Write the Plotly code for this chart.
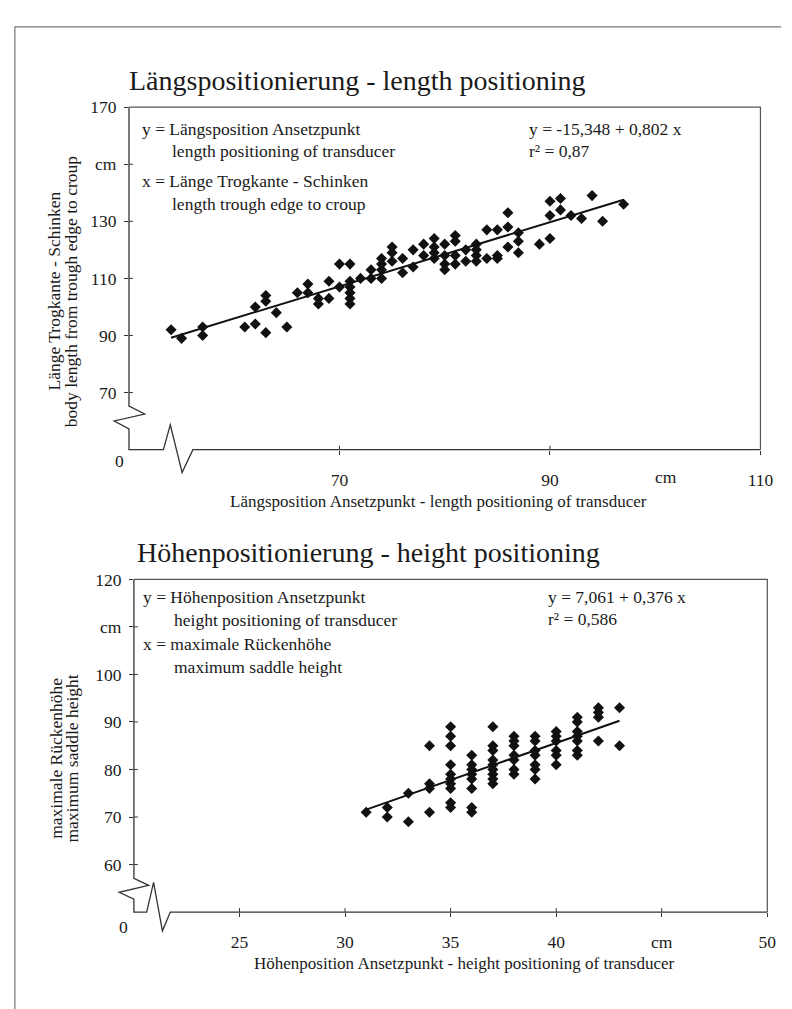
import numpy as np
import plotly.graph_objects as go

W, H = 792, 1009

# ---------------- data: length positioning (top chart) ----------------
len_pos = [54, 55, 57, 57, 61, 62, 63, 62, 63, 63, 64, 65, 66, 67, 67, 68, 68, 69, 69,
           70, 70, 71, 71, 71, 71, 71, 71, 72, 73, 73, 74, 74, 74, 74, 75, 75, 75, 76, 76,
           77, 77, 78, 78, 79, 79, 79, 79, 80, 80, 80, 80, 81, 81, 81, 81, 82, 82,
           83, 83, 83, 83, 84, 84, 85, 85, 85, 86, 86, 86, 87, 87, 87, 89, 90, 90, 90,
           91, 91, 92, 93, 94, 95, 97]
body_len = [92, 89, 93, 90, 93, 94, 91, 100, 104, 102, 98, 93, 105, 108, 105, 103, 101, 109, 103,
            115, 107, 115, 109, 107, 105, 103, 101, 110, 113, 110, 117, 115, 113, 110, 121, 119, 116, 117, 112,
            120, 114, 122, 118, 124, 121, 119, 117, 122, 118, 115, 113, 125, 123, 118, 115, 120, 116,
            122, 120, 118, 116, 127, 117, 127, 118, 117, 133, 128, 121, 126, 123, 119, 122, 137, 132, 124,
            138, 134, 132, 131, 139, 130, 136]

# ---------------- data: height positioning (bottom chart) ----------------
hgt_pos = ([31] + [32] * 2 + [33] * 2 + [34] * 4 + [35] * 10 + [36] * 8 + [37] * 9 +
           [38] * 7 + [39] * 7 + [40] * 6 + [41] * 7 + [42] * 4 + [43] * 2)
saddle_h = ([71] + [72, 70] + [69, 75] + [71, 76, 77, 85] +
            [72, 73, 76, 77, 78, 79, 81, 85, 87, 89] +
            [71, 72, 76, 78, 79, 80, 81, 83] +
            [77, 78, 79, 80, 81, 82, 84, 85, 89] +
            [79, 80, 82, 83, 85, 86, 87] +
            [78, 80, 81, 83, 84, 86, 87] +
            [81, 83, 84, 86, 87, 88] +
            [83, 84, 86, 87, 88, 90, 91] +
            [86, 91, 92, 93] +
            [85, 93])
assert len(len_pos) == len(body_len)
assert len(hgt_pos) == len(saddle_h)

# ticks
top_x_ticks = [70, 90, 110]
top_x_text = ["70", "90", "110"]
top_y_ticks = [70, 90, 110, 130, 150, 170]
top_y_text = ["70", "90", "110", "130", "cm", "170"]
bot_x_ticks = [25, 30, 35, 40, 45, 50]
bot_x_text = ["25", "30", "35", "40", "cm", "50"]
bot_y_ticks = [60, 70, 80, 90, 100, 110, 120]
bot_y_text = ["60", "70", "80", "90", "100", "cm", "120"]

FONT = "Liberation Serif"
TXT = "#1a1a1a"
AX = "#333333"
FS = 17.5


def P(px, py):
    return px / W, 1 - py / H


fig = go.Figure()

# scatter + trend lines
for xs, ys, xa, ya in [(len_pos, body_len, "x", "y"), (hgt_pos, saddle_h, "x2", "y2")]:
    b, a = np.polyfit(np.array(xs, float), np.array(ys, float), 1)
    lx = np.array([min(xs), max(xs)], float)
    fig.add_trace(go.Scatter(x=lx, y=a + b * lx, mode="lines", xaxis=xa, yaxis=ya,
                             line=dict(color="#111111", width=2),
                             showlegend=False, hoverinfo="skip"))
    fig.add_trace(go.Scatter(x=xs, y=ys, mode="markers", xaxis=xa, yaxis=ya,
                             marker=dict(symbol="diamond", size=8.5, color="#111111"),
                             showlegend=False, hoverinfo="skip"))

# plot boxes in pixels: left, top, right, bottom
top_box = (123, 90, 765, 436)
bot_box = (128, 567, 772, 903)

tickfont = dict(family=FONT, size=FS, color=TXT)
common = dict(showgrid=False, zeroline=False, showline=False, ticks="outside",
              ticklen=4, tickwidth=1, tickcolor=AX, tickfont=tickfont, fixedrange=True)

fig.update_layout(
    width=W, height=H, margin=dict(l=0, r=0, t=0, b=0),
    paper_bgcolor="white", plot_bgcolor="white",
    xaxis=dict(domain=[top_box[0] / W, top_box[2] / W], range=[50, 110],
               tickvals=top_x_ticks, ticktext=top_x_text, anchor="y",
               ticklabelstandoff=10, **common),
    yaxis=dict(domain=[1 - top_box[3] / H, 1 - top_box[1] / H], range=[50, 170],
               tickvals=top_y_ticks, ticktext=top_y_text, anchor="x",
               ticklabelstandoff=4, **common),
    xaxis2=dict(domain=[bot_box[0] / W, bot_box[2] / W], range=[20, 50],
                tickvals=bot_x_ticks, ticktext=bot_x_text, anchor="y2",
                ticklabelstandoff=10, **common),
    yaxis2=dict(domain=[1 - bot_box[3] / H, 1 - bot_box[1] / H], range=[50, 120],
                tickvals=bot_y_ticks, ticktext=bot_y_text, anchor="x2",
                ticklabelstandoff=4, **common),
)

shapes = []


def path(points, color=AX, width=1.3):
    d = ""
    for i, (px, py) in enumerate(points):
        x, y = P(px, py)
        d += ("M" if i == 0 else "L") + f"{x:.5f},{y:.5f} "
    shapes.append(dict(type="path", path=d, xref="paper", yref="paper",
                       line=dict(color=color, width=width)))


# inner half of the crossing tick marks
def inner_ticks(vals, box, xref=None, yref=None):
    l, t, r, b = box
    for v in vals:
        if xref:
            shapes.append(dict(type="line", xref=xref, yref="paper", x0=v, x1=v,
                               y0=1 - b / H, y1=1 - (b - 4) / H,
                               line=dict(color=AX, width=1)))
        else:
            shapes.append(dict(type="line", xref="paper", yref=yref, y0=v, y1=v,
                               x0=l / W, x1=(l + 4) / W,
                               line=dict(color=AX, width=1)))


inner_ticks(top_x_ticks[:-1], top_box, xref="x")
inner_ticks(top_y_ticks[:-1], top_box, yref="y")
inner_ticks(bot_x_ticks[:-1], bot_box, xref="x2")
inner_ticks(bot_y_ticks[:-1], bot_box, yref="y2")

# top chart: axes with breaks, frame top/right
l, t, r, b = top_box
path([(l, t), (l, 392), (l + 16, 400), (l - 15, 407), (l, 415), (l, b),
      (158, b), (165, 411), (177, 459), (188, b), (r, b)])
path([(l, t), (r, t), (r, b)], color="#555555", width=1.2)
# bottom chart
l, t, r, b = bot_box
path([(l, t), (l, 869), (l + 15, 876), (l - 15, 883), (l, 890), (l, b),
      (141, b), (148, 873), (157, 922), (165, b), (r, b)])
path([(l, t), (r, t), (r, b)], color="#555555", width=1.2)
# page frame
path([(7, 1004), (7, 9), (786, 9)], color="#777777", width=1.2)
path([(7, 1004), (786, 1004)], color="#d0d0d0", width=1)

annotations = []


def text(px, py, s, size=FS, anchor="left", angle=0):
    x, y = P(px, py)
    annotations.append(dict(x=x, y=y, xref="paper", yref="paper", text=s, showarrow=False,
                            xanchor=anchor, yanchor="middle", textangle=angle,
                            font=dict(family=FONT, size=size, color=TXT)))


# titles
text(121, 63, "Längspositionierung - length positioning", size=28)
text(129, 540, "Höhenpositionierung - height positioning", size=28)

# top chart texts
text(134, 112, "y = Längsposition Ansetzpunkt")
text(165, 134, "length positioning of transducer")
text(134, 165, "x = Länge Trogkante - Schinken")
text(165, 188, "length trough edge to croup")
text(528, 112, "y = -15,348 + 0,802 x")
text(528, 134, "r² = 0,87")
text(113, 447, "0", anchor="center")
text(652, 488, "Längsposition Ansetzpunkt - length positioning of transducer", size=17, anchor="right")
text(47, 276, "Länge Trogkante - Schinken", anchor="center", angle=-90)
text(64, 276, "body length from trough edge to croup", anchor="center", angle=-90)
annotations.append(dict(x=101, y=1 - 464 / H, xref="x", yref="paper", text="cm", showarrow=False,
                        xanchor="center", yanchor="middle",
                        font=dict(family=FONT, size=FS, color=TXT)))

# bottom chart texts
text(135, 585, "y = Höhenposition Ansetzpunkt")
text(167, 608, "height positioning of transducer")
text(135, 632, "x = maximale Rückenhöhe")
text(167, 655, "maximum saddle height")
text(547, 585, "y = 7,061 + 0,376 x")
text(547, 607, "r² = 0,586")
text(117, 918, "0", anchor="center")
text(680, 955, "Höhenposition Ansetzpunkt - height positioning of transducer", size=17, anchor="right")
text(48, 748, "maximale Rückenhöhe", anchor="center", angle=-90)
text(65, 748, "maximum saddle height", anchor="center", angle=-90)

fig.update_layout(shapes=shapes, annotations=annotations)
fig.write_html("out.html")
